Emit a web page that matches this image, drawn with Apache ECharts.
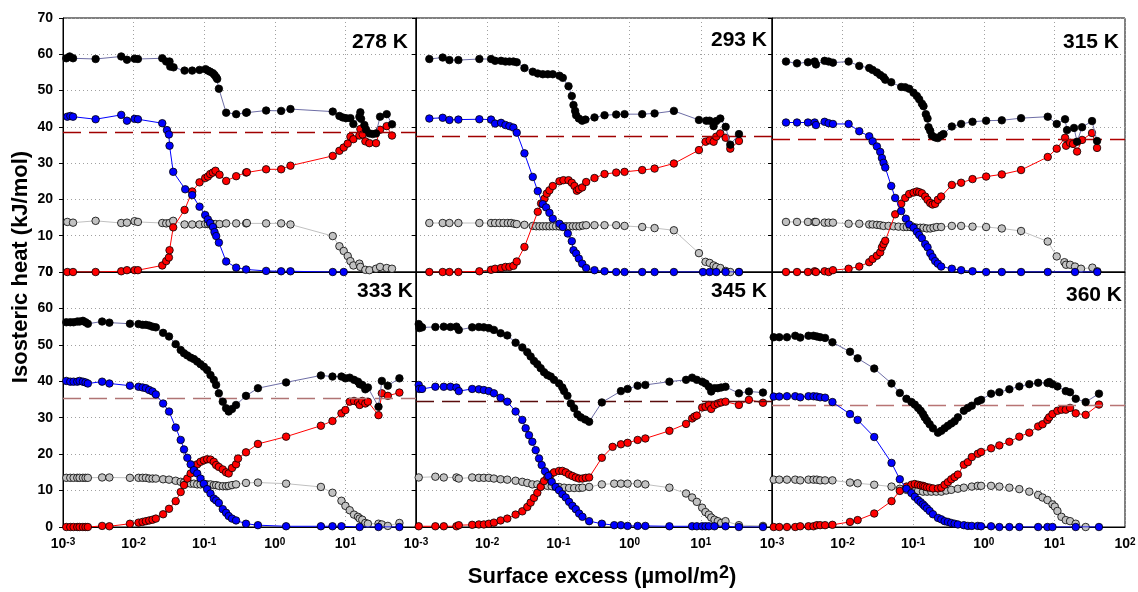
<!DOCTYPE html>
<html>
<head>
<meta charset="utf-8">
<script src="https://cdn.jsdelivr.net/npm/echarts@6/dist/echarts.min.js"></script>
<style>
  html, body { margin: 0; padding: 0; background: #fff; }
  #chart { width: 1138px; height: 592px; }
</style>
</head>
<body>
<div id="chart"></div>
<script>
// Isosteric heat versus surface excess at six temperatures.
// Points are [log10(surface excess / µmol m^-2), heat / kJ mol^-1].

const temps = ['278 K', '293 K', '315 K', '333 K', '345 K', '360 K'];
const refHeat = [38.5, 37.4, 36.5, 35.3, 34.4, 33.5];
const xTickExponents = [-3, -2, -1, 0, 1, 2];

// ---- 278 K ----
const black278 = [[-2.953,58.9],[-2.906,59.4],[-2.858,58.9],[-2.538,58.7],[-2.175,59.4],[-2.094,58.5],[-1.986,58.8],[-1.939,58.7],[-1.594,58.9],[-1.538,58.0],[-1.491,58.0],[-1.481,56.6],[-1.434,56.4],[-1.278,55.5],[-1.170,55.5],[-1.066,55.7],[-0.981,55.9],[-0.948,55.5],[-0.915,55.2],[-0.877,54.8],[-0.854,54.3],[-0.830,53.7],[-0.816,53.2],[-0.792,50.5],[-0.689,43.9],[-0.547,43.5],[-0.406,43.9],[-0.396,44.0],[-0.123,44.5],[0.090,44.4],[0.222,44.9],[0.821,44.2],[0.915,43.0],[0.962,42.6],[1.009,42.4],[1.071,42.4],[1.113,40.8],[1.198,42.8],[1.212,44.0],[1.222,42.2],[1.269,40.5],[1.292,39.3],[1.340,38.2],[1.387,38.0],[1.434,38.2],[1.491,42.8],[1.585,43.5],[1.660,40.7]];
const blue278 = [[-2.939,42.8],[-2.896,43.0],[-2.858,42.8],[-2.538,42.1],[-2.175,43.3],[-2.094,41.7],[-1.986,42.2],[-1.939,42.1],[-1.594,41.0],[-1.528,39.1],[-1.500,37.9],[-1.491,34.8],[-1.439,27.6],[-1.269,22.8],[-1.170,21.2],[-1.066,18.0],[-0.986,15.7],[-0.948,14.5],[-0.915,13.5],[-0.877,12.4],[-0.854,11.0],[-0.830,9.9],[-0.792,8.1],[-0.689,2.9],[-0.547,1.2],[-0.406,0.7],[-0.123,0.3],[0.090,0.2],[0.222,0.2],[0.821,0.0],[0.976,0.0]];
const red278 = [[-2.939,0.0],[-2.858,0.0],[-2.538,0.0],[-2.175,0.2],[-2.094,0.5],[-1.986,0.5],[-1.939,0.5],[-1.594,1.8],[-1.538,3.0],[-1.500,4.0],[-1.491,6.0],[-1.439,12.3],[-1.278,17.1],[-1.170,22.2],[-1.066,24.7],[-0.986,25.9],[-0.948,26.3],[-0.915,27.0],[-0.877,27.4],[-0.840,27.9],[-0.783,26.8],[-0.689,25.1],[-0.547,26.4],[-0.406,27.4],[-0.396,27.5],[-0.123,28.3],[0.090,28.3],[0.222,29.3],[0.821,32.0],[0.915,33.4],[0.976,34.3],[1.033,35.4],[1.071,37.3],[1.113,36.6],[1.198,37.6],[1.212,39.4],[1.245,37.9],[1.283,36.0],[1.340,35.5],[1.434,35.5],[1.491,39.2],[1.585,40.2],[1.660,37.6]];
const gray278 = [[-2.939,13.8],[-2.858,13.6],[-2.538,14.1],[-2.175,13.5],[-2.094,13.6],[-1.986,14.0],[-1.939,13.8],[-1.594,13.5],[-1.538,13.4],[-1.491,13.5],[-1.439,14.1],[-1.278,13.1],[-1.170,13.1],[-1.066,13.1],[-0.986,13.2],[-0.948,13.2],[-0.915,13.2],[-0.877,13.2],[-0.840,13.2],[-0.783,13.2],[-0.689,13.4],[-0.547,13.4],[-0.406,13.4],[-0.396,13.5],[-0.123,13.4],[0.090,13.4],[0.222,13.1],[0.821,9.9],[0.915,7.1],[0.976,5.8],[1.033,4.4],[1.071,3.0],[1.113,1.8],[1.198,2.3],[1.212,1.4],[1.283,0.6],[1.340,0.5],[1.434,0.9],[1.491,1.4],[1.585,1.1],[1.660,0.9]];

// ---- 293 K ----
const black293 = [[-2.813,58.7],[-2.625,59.1],[-2.531,58.4],[-2.405,58.4],[-2.110,58.7],[-1.946,58.7],[-1.889,58.2],[-1.805,58.2],[-1.744,58.0],[-1.688,58.0],[-1.632,58.0],[-1.585,57.8],[-1.477,56.2],[-1.360,55.2],[-1.290,54.7],[-1.219,54.5],[-1.149,54.5],[-1.079,54.5],[-0.985,54.1],[-0.938,53.5],[-0.858,51.2],[-0.812,48.5],[-0.788,46.0],[-0.765,44.4],[-0.751,43.2],[-0.713,42.3],[-0.666,41.7],[-0.620,42.0],[-0.493,42.6],[-0.352,43.2],[-0.188,43.4],[-0.071,43.5],[0.177,43.5],[0.351,43.7],[0.622,44.4],[0.974,41.9],[1.077,41.7],[1.124,41.7],[1.180,40.2],[1.217,41.6],[1.274,42.3],[1.349,40.0],[1.414,35.1],[1.536,38.0]];
const blue293 = [[-2.813,42.3],[-2.625,42.5],[-2.531,41.9],[-2.405,42.0],[-2.110,42.1],[-1.946,42.0],[-1.889,40.9],[-1.805,41.1],[-1.744,40.5],[-1.688,40.2],[-1.632,39.8],[-1.585,38.4],[-1.477,32.7],[-1.360,26.2],[-1.290,22.3],[-1.219,18.7],[-1.172,17.8],[-1.126,16.3],[-1.079,14.7],[-0.985,13.3],[-0.938,12.4],[-0.868,10.6],[-0.812,8.5],[-0.788,6.0],[-0.751,5.1],[-0.713,3.7],[-0.666,2.3],[-0.610,1.1],[-0.493,0.5],[-0.352,0.2],[-0.188,0.0],[-0.071,0.0],[0.177,0.0],[0.351,0.0],[0.622,0.0],[1.030,0.0],[1.124,0.0],[1.217,0.0],[1.349,0.0],[1.536,0.0]];
const red293 = [[-2.813,0.0],[-2.625,0.0],[-2.531,0.0],[-2.405,0.0],[-2.110,0.2],[-1.946,0.6],[-1.889,0.9],[-1.805,1.1],[-1.744,1.4],[-1.688,1.4],[-1.632,1.7],[-1.585,2.9],[-1.477,6.9],[-1.290,16.6],[-1.243,18.9],[-1.196,20.2],[-1.163,21.6],[-1.126,22.5],[-1.079,23.7],[-0.985,25.0],[-0.929,25.3],[-0.858,25.3],[-0.812,24.6],[-0.774,23.7],[-0.741,22.4],[-0.713,22.8],[-0.666,23.3],[-0.610,24.8],[-0.493,25.9],[-0.352,27.0],[-0.188,27.4],[-0.071,27.6],[0.177,28.1],[0.351,28.5],[0.622,29.9],[0.974,33.6],[1.067,35.9],[1.124,36.3],[1.180,35.9],[1.217,37.3],[1.274,38.2],[1.349,37.0],[1.414,34.0],[1.536,36.1]];
const gray293 = [[-2.813,13.5],[-2.625,13.5],[-2.531,13.5],[-2.405,13.5],[-2.110,13.5],[-1.946,13.5],[-1.889,13.5],[-1.828,13.5],[-1.772,13.5],[-1.711,13.5],[-1.664,13.5],[-1.618,13.3],[-1.585,13.2],[-1.477,13.0],[-1.360,12.7],[-1.313,12.6],[-1.266,12.6],[-1.219,12.6],[-1.172,12.6],[-1.126,12.6],[-1.079,12.6],[-1.032,12.6],[-0.985,12.6],[-0.938,12.6],[-0.891,12.6],[-0.844,12.6],[-0.798,12.6],[-0.751,12.6],[-0.704,12.6],[-0.657,12.8],[-0.610,12.9],[-0.493,12.9],[-0.352,12.9],[-0.188,12.9],[-0.071,12.7],[0.177,12.4],[0.351,12.1],[0.622,11.5],[0.974,5.2],[1.067,2.8],[1.124,2.5],[1.180,1.8],[1.217,1.4],[1.274,1.1],[1.349,0.3],[1.414,0.0],[1.536,0.0]];

// ---- 315 K ----
const black315 = [[-2.802,58.0],[-2.646,57.5],[-2.491,57.8],[-2.396,58.0],[-2.377,57.2],[-2.255,58.2],[-2.198,58.0],[-2.137,57.7],[-1.915,58.0],[-1.764,56.8],[-1.623,56.2],[-1.575,55.7],[-1.514,55.0],[-1.467,54.3],[-1.420,53.7],[-1.396,53.0],[-1.311,52.3],[-1.170,51.0],[-1.113,50.9],[-1.057,50.5],[-0.995,49.4],[-0.948,48.5],[-0.915,47.6],[-0.877,46.4],[-0.854,45.7],[-0.821,43.5],[-0.797,42.3],[-0.783,39.9],[-0.759,38.9],[-0.736,37.6],[-0.689,37.1],[-0.651,36.9],[-0.604,37.6],[-0.571,38.0],[-0.453,40.1],[-0.321,40.8],[-0.160,41.4],[0.033,41.7],[0.255,41.8],[0.528,42.4],[0.906,42.8],[1.033,40.8],[1.151,42.1],[1.179,39.1],[1.278,39.7],[1.321,35.9],[1.392,39.9],[1.533,41.6],[1.604,36.1]];
const blue315 = [[-2.802,41.2],[-2.646,41.2],[-2.491,41.2],[-2.396,41.2],[-2.377,40.5],[-2.255,41.4],[-2.198,41.0],[-2.137,40.8],[-1.915,40.8],[-1.764,38.8],[-1.623,37.4],[-1.575,36.0],[-1.514,34.6],[-1.467,33.1],[-1.443,31.4],[-1.420,30.1],[-1.396,28.8],[-1.311,23.7],[-1.255,20.4],[-1.170,16.8],[-1.104,14.7],[-1.057,13.1],[-0.995,12.2],[-0.948,11.1],[-0.915,10.2],[-0.877,9.3],[-0.830,7.7],[-0.797,6.8],[-0.759,5.2],[-0.726,4.1],[-0.689,3.0],[-0.651,2.3],[-0.604,1.5],[-0.453,0.9],[-0.321,0.5],[-0.160,0.2],[0.033,0.0],[0.255,0.0],[0.528,0.0],[0.906,0.0],[1.292,0.0],[1.608,0.0]];
const red315 = [[-2.802,0.0],[-2.646,0.0],[-2.491,0.0],[-2.396,0.2],[-2.377,0.0],[-2.255,0.2],[-2.198,0.0],[-2.137,0.5],[-1.915,0.9],[-1.764,1.5],[-1.623,2.7],[-1.575,3.6],[-1.514,4.5],[-1.467,5.4],[-1.443,6.8],[-1.420,7.7],[-1.396,8.6],[-1.255,15.9],[-1.170,18.8],[-1.113,20.4],[-1.057,21.5],[-0.995,21.9],[-0.948,22.2],[-0.915,22.0],[-0.877,21.7],[-0.830,20.8],[-0.797,19.9],[-0.759,19.0],[-0.726,18.6],[-0.689,18.8],[-0.651,19.9],[-0.604,20.8],[-0.453,24.0],[-0.321,24.6],[-0.160,25.6],[0.033,26.3],[0.255,26.9],[0.528,28.1],[0.906,31.7],[1.033,34.0],[1.151,37.0],[1.165,34.8],[1.222,35.6],[1.264,35.3],[1.321,33.2],[1.392,36.4],[1.533,38.3],[1.604,34.2]];
const gray315 = [[-2.802,13.8],[-2.646,13.8],[-2.491,13.8],[-2.396,13.8],[-2.377,13.8],[-2.255,13.6],[-2.198,13.6],[-2.137,13.6],[-1.915,13.3],[-1.764,13.3],[-1.623,13.1],[-1.575,13.1],[-1.514,13.0],[-1.467,12.9],[-1.420,12.7],[-1.349,12.7],[-1.278,12.6],[-1.208,12.5],[-1.137,12.4],[-1.090,12.4],[-1.042,12.4],[-0.995,12.4],[-0.948,12.2],[-0.901,12.2],[-0.854,12.2],[-0.807,12.0],[-0.759,12.0],[-0.712,12.2],[-0.665,12.4],[-0.604,12.4],[-0.453,12.7],[-0.321,12.7],[-0.160,12.5],[0.033,12.4],[0.255,12.0],[0.528,11.3],[0.906,8.4],[1.033,4.3],[1.142,2.7],[1.165,2.0],[1.222,2.0],[1.292,1.5],[1.377,0.9],[1.538,1.2],[1.608,0.2]];

// ---- 333 K ----
const black333 = [[-2.953,56.2],[-2.897,56.2],[-2.850,56.2],[-2.798,56.4],[-2.765,56.4],[-2.718,56.6],[-2.681,56.2],[-2.648,55.8],[-2.446,56.4],[-2.343,56.1],[-2.052,55.8],[-1.930,55.7],[-1.873,55.5],[-1.826,55.5],[-1.779,55.3],[-1.732,55.0],[-1.685,54.8],[-1.582,53.3],[-1.498,52.3],[-1.404,50.2],[-1.333,48.6],[-1.286,47.7],[-1.239,47.1],[-1.192,46.5],[-1.146,46.1],[-1.099,45.4],[-1.052,44.7],[-1.005,44.0],[-0.958,43.1],[-0.911,41.7],[-0.864,40.4],[-0.831,39.0],[-0.793,36.7],[-0.737,34.4],[-0.690,32.6],[-0.653,31.7],[-0.606,32.4],[-0.549,33.5],[-0.408,36.0],[-0.239,38.1],[0.160,39.7],[0.653,41.6],[0.817,41.3],[0.944,41.3],[1.000,40.8],[1.061,41.0],[1.122,40.4],[1.178,39.9],[1.202,39.2],[1.239,39.0],[1.282,37.8],[1.319,38.3],[1.469,33.0],[1.516,40.1],[1.601,38.8],[1.765,40.8]];
const blue333 = [[-2.953,40.1],[-2.897,39.9],[-2.850,39.9],[-2.798,39.9],[-2.765,40.1],[-2.718,39.9],[-2.681,39.7],[-2.648,39.4],[-2.446,39.9],[-2.343,39.4],[-2.052,38.8],[-1.930,38.5],[-1.873,38.3],[-1.826,38.1],[-1.779,37.6],[-1.732,37.2],[-1.685,36.4],[-1.582,33.9],[-1.498,31.7],[-1.404,27.3],[-1.333,23.9],[-1.286,21.3],[-1.239,19.0],[-1.192,17.2],[-1.146,15.6],[-1.099,14.7],[-1.052,13.3],[-1.005,11.9],[-0.958,10.4],[-0.911,9.2],[-0.864,7.8],[-0.831,7.3],[-0.793,6.6],[-0.737,4.9],[-0.690,3.9],[-0.653,3.0],[-0.606,2.3],[-0.549,1.8],[-0.408,0.9],[-0.239,0.5],[0.160,0.2],[0.653,0.2],[0.817,0.2],[0.944,0.2],[1.202,0.0],[1.469,0.0],[1.765,0.0]];
const red333 = [[-2.953,0.0],[-2.897,0.0],[-2.850,0.0],[-2.798,0.0],[-2.765,0.0],[-2.718,0.0],[-2.681,0.0],[-2.648,0.0],[-2.446,0.3],[-2.343,0.2],[-2.052,0.9],[-1.930,1.2],[-1.873,1.4],[-1.826,1.6],[-1.779,1.8],[-1.732,2.0],[-1.685,2.3],[-1.582,3.5],[-1.498,5.0],[-1.404,7.1],[-1.333,9.6],[-1.286,11.5],[-1.239,13.3],[-1.192,14.7],[-1.146,16.2],[-1.099,17.2],[-1.052,17.9],[-1.005,18.3],[-0.958,18.6],[-0.911,18.5],[-0.864,17.9],[-0.831,17.0],[-0.793,16.5],[-0.737,15.8],[-0.690,15.0],[-0.653,14.7],[-0.606,16.2],[-0.549,17.2],[-0.521,18.8],[-0.408,20.5],[-0.239,22.8],[0.160,24.8],[0.653,27.8],[0.817,29.1],[0.944,31.2],[1.000,32.1],[1.061,34.4],[1.122,34.6],[1.178,34.2],[1.202,33.5],[1.239,34.6],[1.282,33.9],[1.319,34.4],[1.469,30.7],[1.516,36.7],[1.601,36.0],[1.765,36.9]];
const gray333 = [[-2.953,13.5],[-2.897,13.5],[-2.850,13.5],[-2.798,13.5],[-2.765,13.5],[-2.718,13.5],[-2.681,13.5],[-2.648,13.5],[-2.446,13.6],[-2.343,13.6],[-2.052,13.5],[-1.930,13.5],[-1.873,13.5],[-1.826,13.5],[-1.779,13.3],[-1.732,13.3],[-1.685,13.3],[-1.582,13.1],[-1.498,13.0],[-1.404,12.7],[-1.333,12.4],[-1.286,12.2],[-1.239,12.1],[-1.192,11.9],[-1.146,11.9],[-1.099,11.7],[-1.052,11.7],[-1.005,11.7],[-0.958,11.7],[-0.911,11.7],[-0.864,11.5],[-0.831,11.5],[-0.793,11.3],[-0.737,11.2],[-0.690,11.2],[-0.653,11.3],[-0.606,11.5],[-0.549,11.7],[-0.408,12.1],[-0.239,12.2],[0.160,11.9],[0.653,11.0],[0.817,9.4],[0.944,7.2],[1.000,5.8],[1.061,4.6],[1.122,3.4],[1.178,2.8],[1.202,2.3],[1.239,2.0],[1.282,1.1],[1.319,0.9],[1.469,0.9],[1.516,0.7],[1.601,0.3],[1.765,1.1]];

// ---- 345 K ----
const black345 = [[-2.962,55.7],[-2.953,54.6],[-2.939,55.0],[-2.915,54.8],[-2.728,54.9],[-2.610,55.0],[-2.516,54.9],[-2.432,55.0],[-2.399,54.1],[-2.211,54.8],[-2.117,54.9],[-2.047,54.8],[-1.977,54.6],[-1.906,54.1],[-1.812,53.2],[-1.718,52.6],[-1.601,50.6],[-1.507,49.3],[-1.437,48.0],[-1.390,46.8],[-1.343,45.6],[-1.296,44.7],[-1.249,43.6],[-1.202,42.5],[-1.155,41.7],[-1.108,41.3],[-1.061,40.4],[-0.991,39.4],[-0.944,38.3],[-0.920,37.3],[-0.873,36.0],[-0.826,33.9],[-0.779,32.6],[-0.732,30.9],[-0.685,30.1],[-0.624,29.5],[-0.568,28.9],[-0.390,34.2],[-0.122,37.3],[-0.028,37.9],[0.113,38.8],[0.221,39.0],[0.559,39.9],[0.793,40.4],[0.878,41.0],[0.944,40.4],[1.019,39.9],[1.066,39.4],[1.113,38.5],[1.146,37.2],[1.192,38.1],[1.239,38.1],[1.286,38.3],[1.347,38.5],[1.535,36.7],[1.676,37.2],[1.873,36.9]];
const blue345 = [[-2.962,39.0],[-2.953,37.9],[-2.915,37.9],[-2.728,38.5],[-2.610,38.5],[-2.516,38.5],[-2.432,38.3],[-2.399,37.3],[-2.211,37.9],[-2.117,37.8],[-2.047,37.6],[-1.977,37.3],[-1.906,36.7],[-1.812,35.5],[-1.718,34.4],[-1.601,31.7],[-1.507,29.4],[-1.460,27.1],[-1.413,25.2],[-1.366,23.4],[-1.319,21.1],[-1.272,18.8],[-1.235,17.0],[-1.188,15.3],[-1.141,14.0],[-1.094,12.4],[-1.038,11.0],[-0.991,10.1],[-0.944,9.0],[-0.897,8.1],[-0.850,6.9],[-0.803,5.8],[-0.756,4.9],[-0.709,3.7],[-0.662,2.8],[-0.568,1.6],[-0.390,0.9],[-0.216,0.5],[-0.122,0.5],[-0.028,0.3],[0.113,0.3],[0.221,0.3],[0.559,0.2],[0.878,0.2],[0.944,0.2],[1.019,0.2],[1.066,0.2],[1.113,0.2],[1.192,0.2],[1.347,0.2],[1.535,0.0],[1.873,0.0]];
const red345 = [[-2.962,0.2],[-2.728,0.2],[-2.610,0.2],[-2.432,0.2],[-2.399,0.5],[-2.211,0.6],[-2.117,0.7],[-2.047,0.7],[-1.977,0.9],[-1.906,1.2],[-1.812,1.8],[-1.718,2.3],[-1.601,3.4],[-1.507,4.3],[-1.437,5.5],[-1.390,6.7],[-1.343,8.0],[-1.296,9.4],[-1.249,11.0],[-1.202,12.6],[-1.155,13.8],[-1.108,14.4],[-1.061,15.0],[-0.991,15.4],[-0.944,15.4],[-0.897,15.0],[-0.850,14.4],[-0.803,14.0],[-0.756,13.6],[-0.709,13.3],[-0.662,13.3],[-0.615,13.5],[-0.568,13.6],[-0.390,19.0],[-0.239,22.0],[-0.122,22.7],[-0.028,23.1],[0.113,23.9],[0.221,24.3],[0.559,26.4],[0.793,28.3],[0.878,29.8],[0.911,30.3],[0.944,30.6],[1.019,32.8],[1.066,33.0],[1.113,33.5],[1.146,32.4],[1.192,33.5],[1.239,33.9],[1.286,34.2],[1.347,34.4],[1.535,33.5],[1.676,34.9],[1.873,34.1]];
const gray345 = [[-2.962,13.6],[-2.728,13.8],[-2.610,13.6],[-2.432,13.6],[-2.399,13.3],[-2.211,13.6],[-2.117,13.5],[-2.047,13.5],[-1.977,13.5],[-1.906,13.3],[-1.812,13.1],[-1.718,13.0],[-1.601,12.7],[-1.507,12.4],[-1.437,12.1],[-1.366,11.7],[-1.296,11.7],[-1.225,11.5],[-1.155,11.3],[-1.094,11.2],[-1.038,11.0],[-0.991,11.0],[-0.920,10.8],[-0.850,10.7],[-0.779,10.7],[-0.709,10.7],[-0.662,10.8],[-0.568,11.0],[-0.390,11.7],[-0.216,11.9],[-0.122,11.9],[-0.028,11.9],[0.113,11.9],[0.221,11.7],[0.559,10.8],[0.793,9.2],[0.878,8.1],[0.944,6.9],[1.019,5.3],[1.066,4.1],[1.113,3.4],[1.146,2.6],[1.192,2.0],[1.239,1.6],[1.286,1.1],[1.347,1.6],[1.535,0.5],[1.873,0.3]];

// ---- 360 K ----
const black360 = [[-2.976,52.1],[-2.897,52.1],[-2.788,52.1],[-2.671,52.5],[-2.600,52.0],[-2.483,52.5],[-2.412,52.5],[-2.365,52.3],[-2.318,52.1],[-2.248,51.9],[-2.144,50.7],[-1.895,48.1],[-1.787,46.3],[-1.552,43.5],[-1.307,39.4],[-1.190,36.8],[-1.096,35.2],[-1.025,34.3],[-0.978,33.6],[-0.931,32.7],[-0.894,31.9],[-0.861,31.0],[-0.837,30.1],[-0.804,29.2],[-0.767,28.2],[-0.720,27.1],[-0.649,25.9],[-0.602,26.4],[-0.555,27.1],[-0.508,27.8],[-0.461,28.4],[-0.414,29.0],[-0.367,30.1],[-0.283,31.9],[-0.226,32.7],[-0.170,33.3],[-0.085,34.5],[-0.038,34.9],[0.103,36.6],[0.220,37.0],[0.362,37.8],[0.503,38.6],[0.644,39.2],[0.770,39.6],[0.902,39.5],[0.926,39.8],[0.973,39.2],[1.043,38.6],[1.161,37.3],[1.222,37.0],[1.302,35.2],[1.443,34.3],[1.631,36.6]];
const blue360 = [[-2.976,35.8],[-2.897,35.8],[-2.788,35.9],[-2.671,35.9],[-2.600,35.6],[-2.483,35.9],[-2.412,35.9],[-2.365,35.8],[-2.318,35.6],[-2.248,35.5],[-2.144,34.3],[-1.895,31.0],[-1.787,29.4],[-1.552,24.7],[-1.307,17.6],[-1.190,13.1],[-1.096,10.5],[-1.025,9.3],[-0.978,8.3],[-0.931,7.4],[-0.894,6.8],[-0.861,6.2],[-0.837,5.7],[-0.804,5.1],[-0.767,4.4],[-0.720,3.5],[-0.649,2.5],[-0.602,2.1],[-0.555,1.6],[-0.508,1.4],[-0.461,1.1],[-0.414,0.9],[-0.367,0.7],[-0.283,0.5],[-0.226,0.3],[-0.170,0.3],[-0.085,0.3],[-0.038,0.2],[0.103,0.2],[0.220,0.0],[0.362,0.0],[0.503,0.0],[0.770,0.0],[0.902,0.0],[0.973,0.0],[1.302,0.0],[1.631,0.0]];
const red360 = [[-2.976,0.0],[-2.897,0.0],[-2.788,0.0],[-2.671,0.0],[-2.600,0.2],[-2.483,0.2],[-2.412,0.2],[-2.365,0.5],[-2.318,0.5],[-2.248,0.5],[-2.144,0.6],[-1.895,1.4],[-1.787,1.9],[-1.552,3.7],[-1.307,7.1],[-1.190,9.9],[-1.096,11.1],[-1.025,11.6],[-0.978,11.8],[-0.931,11.6],[-0.894,11.4],[-0.861,11.3],[-0.837,11.1],[-0.804,10.9],[-0.767,10.8],[-0.720,10.6],[-0.649,10.6],[-0.602,10.8],[-0.555,11.6],[-0.508,12.3],[-0.461,13.1],[-0.414,13.7],[-0.367,14.4],[-0.283,17.1],[-0.226,17.8],[-0.170,19.2],[-0.085,20.1],[-0.038,20.6],[0.103,21.6],[0.220,22.4],[0.362,23.4],[0.503,24.8],[0.644,25.9],[0.770,27.6],[0.832,28.2],[0.902,29.4],[0.926,30.1],[0.973,31.0],[1.043,31.9],[1.100,32.2],[1.161,32.2],[1.222,32.7],[1.302,31.2],[1.443,30.8],[1.631,33.6]];
const gray360 = [[-2.976,13.0],[-2.897,13.0],[-2.788,13.0],[-2.671,13.0],[-2.600,12.8],[-2.483,13.0],[-2.412,13.0],[-2.365,13.0],[-2.318,12.8],[-2.248,12.8],[-2.144,12.8],[-1.895,12.2],[-1.787,12.0],[-1.552,11.6],[-1.307,11.1],[-1.190,10.5],[-1.096,10.2],[-1.025,10.0],[-0.978,9.9],[-0.931,9.9],[-0.861,9.7],[-0.804,9.7],[-0.743,9.7],[-0.673,9.7],[-0.602,9.7],[-0.532,10.0],[-0.461,10.2],[-0.367,10.5],[-0.283,10.8],[-0.170,11.1],[-0.085,11.3],[-0.038,11.3],[0.103,11.3],[0.220,11.1],[0.362,10.8],[0.503,10.4],[0.644,9.7],[0.770,8.8],[0.832,8.1],[0.902,7.4],[0.973,6.2],[1.006,5.6],[1.043,4.4],[1.100,2.8],[1.161,1.9],[1.222,1.6],[1.302,0.9],[1.443,0.0]];

// ---- assembly ----
const panelSeries = [
  { gray: gray278, red: red278, blue: blue278, black: black278 },
  { gray: gray293, red: red293, blue: blue293, black: black293 },
  { gray: gray315, red: red315, blue: blue315, black: black315 },
  { gray: gray333, red: red333, blue: blue333, black: black333 },
  { gray: gray345, red: red345, blue: blue345, black: black345 },
  { gray: gray360, red: red360, blue: blue360, black: black360 }
];

const FONT = '"Liberation Sans", Arial, Helvetica, sans-serif';

// panel rectangles: left, top, width, height (px)
const boxes = [
  [63, 18, 353, 254], [416, 18, 356, 254], [772, 18, 353, 254],
  [63, 272, 353, 255], [416, 272, 356, 255], [772, 272, 353, 255]
];
const refLineColors = ['#a00000', '#a00000', '#b00000', '#b07474', '#5a0c0c', '#b87474'];
const labelAnchors = [[408, 42.5], [767, 40.5], [1119, 42.5], [413, 291.5], [767, 291.5], [1122, 295]];

const styles = {
  gray:  { fill: '#c2c2c2', line: '#c0c0c0' },
  red:   { fill: '#ff0000', line: '#ff0000' },
  blue:  { fill: '#0000ff', line: '#0000ff' },
  black: { fill: '#000000', line: '#6e6ea6' }
};
const drawOrder = ['gray', 'red', 'blue', 'black'];

const toPoints = arr => arr.map(p => [Math.pow(10, p[0]), p[1]]);

const grid = [], xAxis = [], yAxis = [], series = [], graphic = [];

boxes.forEach((b, i) => {
  const bottomRow = i >= 3;
  const leftCol = i % 3 === 0;
  const lastCol = i % 3 === 2;
  grid.push({
    left: b[0], top: b[1], width: b[2], height: b[3],
    show: true, borderColor: '#000', borderWidth: 1,
    containLabel: false, outerBoundsMode: 'none'
  });
  xAxis.push({
    type: 'log', logBase: 10, gridIndex: i, min: 0.001, max: 100,
    axisLine: { show: true, onZero: false, lineStyle: { color: '#000', width: 1 } },
    axisTick: { show: false },
    splitLine: { show: true, lineStyle: { color: '#a0a0a0', width: 1, type: [1, 3] } },
    axisLabel: {
      show: bottomRow,
      margin: 10,
      formatter: v => {
        const e = Math.round(Math.log10(v));
        if (xTickExponents.indexOf(e) < 0) return '';
        if (e === 2 && !lastCol) return '';
        return '{b|10}{s|' + e + '}';
      },
      rich: {
        b: { fontFamily: FONT, fontWeight: 'bold', fontSize: 14, color: '#000', lineHeight: 14, verticalAlign: 'bottom', padding: [4, 0, 0, 0] },
        s: { fontFamily: FONT, fontWeight: 'bold', fontSize: 10, color: '#000', lineHeight: 10, verticalAlign: 'top' }
      }
    }
  });
  yAxis.push({
    type: 'value', gridIndex: i, min: 0, max: 70, interval: 10,
    axisLine: { show: true, onZero: false, lineStyle: { color: '#000', width: 1 } },
    axisTick: { show: true, length: 4, lineStyle: { color: '#000' } },
    splitLine: { show: true, lineStyle: { color: '#a0a0a0', width: 1, type: [1, 3] } },
    axisLabel: {
      show: leftCol, margin: 10,
      fontFamily: FONT, fontWeight: 'bold', fontSize: 14, color: '#000'
    }
  });

  const ps = panelSeries[i];
  drawOrder.forEach((key, k) => {
    const st = styles[key];
    const s = {
      type: 'line', xAxisIndex: i, yAxisIndex: i,
      data: toPoints(ps[key]),
      symbol: 'circle', symbolSize: 7.5,
      itemStyle: { color: st.fill, borderColor: '#000', borderWidth: 0.8 },
      lineStyle: { color: st.line, width: 1 },
      clip: true, silent: true, z: 3 + k
    };
    if (k === 0) {
      s.markLine = {
        silent: true, symbol: 'none', label: { show: false },
        lineStyle: { color: refLineColors[i], width: 1.3, type: [18, 8] },
        data: [{ yAxis: refHeat[i] }]
      };
    }
    series.push(s);
  });

  graphic.push({
    type: 'text', x: labelAnchors[i][0], y: labelAnchors[i][1], z: 100,
    style: {
      text: temps[i], fill: '#000',
      font: 'bold 21px ' + FONT, align: 'right', verticalAlign: 'middle'
    }
  });
});

graphic.push({
  type: 'text', x: 21, y: 267, rotation: Math.PI / 2, z: 100,
  style: {
    text: 'Isosteric heat (kJ/mol)', fill: '#000',
    font: 'bold 22px ' + FONT, align: 'center', verticalAlign: 'middle'
  }
});
graphic.push({
  type: 'text', x: 602, y: 576, z: 100,
  style: {
    text: '{a|Surface excess (µmol/m}{s|2}{a|)}',
    align: 'center', verticalAlign: 'middle',
    rich: {
      a: { fontFamily: FONT, fontWeight: 'bold', fontSize: 22, fill: '#000', color: '#000', lineHeight: 24, verticalAlign: 'bottom' },
      s: { fontFamily: FONT, fontWeight: 'bold', fontSize: 18, fill: '#000', color: '#000', lineHeight: 18, verticalAlign: 'top' }
    }
  }
});

const chart = echarts.init(document.getElementById('chart'), null, { renderer: 'canvas' });
chart.setOption({
  animation: false,
  backgroundColor: '#fff',
  grid, xAxis, yAxis, series, graphic
});
</script>
</body>
</html>
